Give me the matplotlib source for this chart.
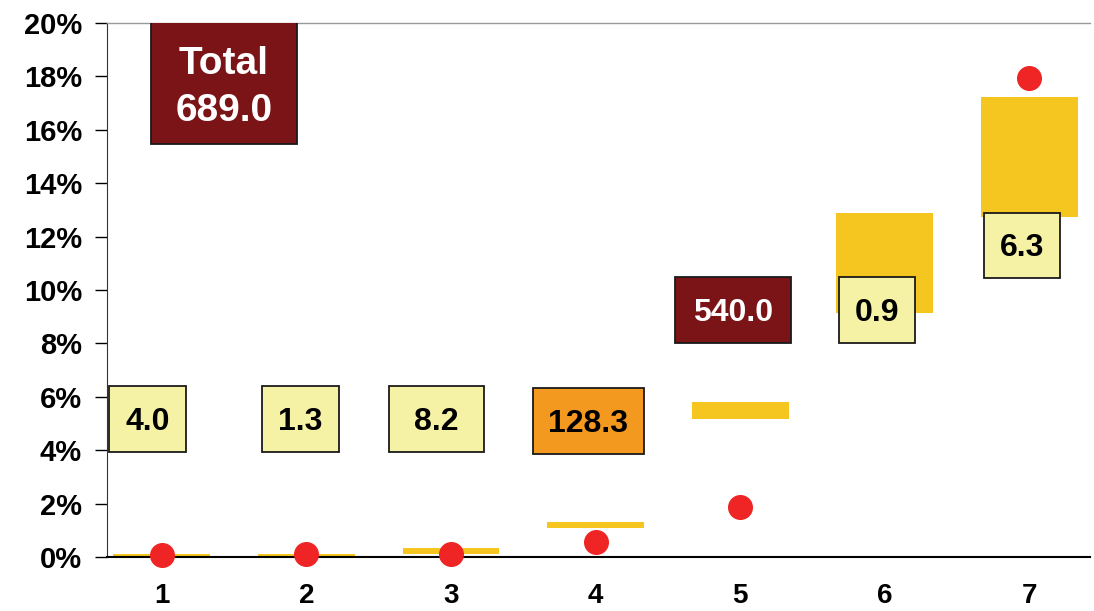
import numpy as np
import matplotlib.pyplot as plt
from matplotlib.patches import Rectangle

plt.rcParams['font.family'] = ['Liberation Sans', 'DejaVu Sans']

categories = ['1', '2', '3', '4', '5', '6', '7']
bar_low = [0.03, 0.03, 0.12, 1.10, 5.18, 9.15, 12.75]
bar_high = [0.11, 0.11, 0.34, 1.31, 5.80, 12.88, 17.23]
dots = [0.08, 0.10, 0.10, 0.57, 1.88, np.nan, 17.93]
box_labels = ['Total\n689.0', '4.0', '1.3', '8.2', '128.3', '540.0', '0.9', '6.3']
box_kind = ['dark', 'pale', 'pale', 'pale', 'orange', 'dark', 'pale', 'pale']

# box layout: left, bottom, width, height (data units)
box_pos = [(0.924, 15.48, 1.009, 4.59),
           (0.634, 3.93, 0.532, 2.46),
           (1.691, 3.93, 0.532, 2.46),
           (2.569, 3.93, 0.656, 2.46),
           (3.564, 3.85, 0.774, 2.47),
           (4.552, 8.00, 0.802, 2.50),
           (5.686, 8.00, 0.525, 2.50),
           (6.688, 10.43, 0.525, 2.47)]
box_face = {'dark': '#7B1416', 'pale': '#F5F2A5', 'orange': '#F4991F'}
box_text = {'dark': 'white', 'pale': 'black', 'orange': 'black'}

fig = plt.figure(figsize=(10.94, 6.11), dpi=100)
ax = fig.add_axes([0.0978, 0.0884, 0.8985, 0.874])

x = np.arange(1, len(categories) + 1)
heights = np.array(bar_high) - np.array(bar_low)
ax.bar(x, heights, bottom=bar_low, width=0.67, color='#F5C520', zorder=2)
ax.plot(x, dots, 'o', color='#EE2524', markersize=17, zorder=4, clip_on=False)

for lab, kind, (l, b, w, h) in zip(box_labels, box_kind, box_pos):
    ax.add_patch(Rectangle((l, b), w, h, facecolor=box_face[kind],
                           edgecolor='#1a1a1a', linewidth=1.3, zorder=5))
    multi = '\n' in lab
    ax.text(l + w / 2, b + h / 2 - (0.2 if multi else 0.1), lab,
            ha='center', va='center', fontsize=28 if multi else 23,
            fontweight='bold', color=box_text[kind],
            linespacing=1.4, zorder=6)

ax.set_xlim(0.62, 7.42)
ax.set_ylim(0, 20)
ax.set_xticks(x)
ax.set_xticklabels(categories)
ax.set_yticks(np.arange(0, 21, 2))
ax.set_yticklabels([f'{v}%' for v in range(0, 21, 2)])
ax.tick_params(axis='y', length=9, width=1, direction='out', labelsize=21, pad=9)
ax.tick_params(axis='x', length=0, labelsize=20, pad=19)
for t in ax.get_xticklabels() + ax.get_yticklabels():
    t.set_fontweight('bold')

ax.spines['right'].set_visible(False)
ax.spines['top'].set_color('#999999')
ax.spines['top'].set_linewidth(1)
ax.spines['left'].set_color('#333333')
ax.spines['bottom'].set_color('black')
ax.spines['bottom'].set_linewidth(1.5)

fig.savefig('out.png', dpi=100)
